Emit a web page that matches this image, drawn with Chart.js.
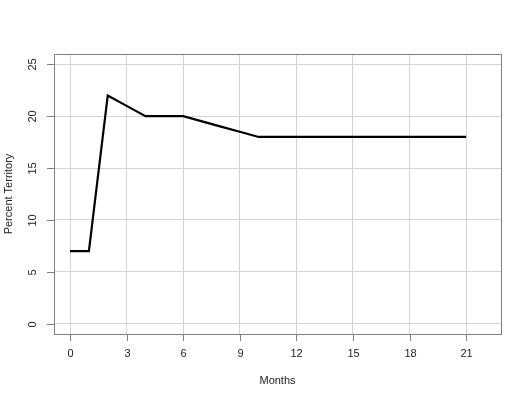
<!DOCTYPE html>
<html>
<head>
<meta charset="utf-8">
<script src="https://cdn.jsdelivr.net/npm/chart.js@4"></script>
<style>
  html, body { margin: 0; padding: 0; background: #fff; }
  #wrap { width: 529px; height: 402px; }
</style>
</head>
<body>
<div id="wrap"><canvas id="territoryChart" width="529" height="402"></canvas></div>
<script>
// values
const months = [0, 1, 2, 3, 4, 5, 6, 7, 8, 9, 10, 11, 12, 13, 14, 15, 16, 17, 18, 19, 20, 21];
const percentTerritory = [7, 7, 22, 21, 20, 20, 20, 19.5, 19, 18.5, 18, 18, 18, 18, 18, 18, 18, 18, 18, 18, 18, 18];
const xTicks = [0, 3, 6, 9, 12, 15, 18, 21];
const yTicks = [0, 5, 10, 15, 20, 25];
const xTitle = 'Months';
const yTitle = 'Percent Territory';

const FONT = '11px "Liberation Sans", Arial, sans-serif';

// R style frame, tick marks and labels (y labels are rotated)
const rAxes = {
    id: 'rAxes',
    afterDraw(chart) {
        const ctx = chart.ctx;
        const area = chart.chartArea;
        const xs = chart.scales.x, ys = chart.scales.y;
        ctx.save();
        ctx.strokeStyle = '#808080';
        ctx.lineWidth = 1;
        ctx.strokeRect(Math.round(area.left) + 0.5, Math.round(area.top) + 0.5,
            Math.round(area.right - area.left), Math.round(area.bottom - area.top));

        ctx.fillStyle = '#222';
        ctx.font = FONT;
        ctx.textAlign = 'center';
        ctx.textBaseline = 'middle';
        xTicks.forEach(v => {
            const px = Math.round(xs.getPixelForValue(v)) + 0.5;
            ctx.beginPath();
            ctx.moveTo(px, area.bottom);
            ctx.lineTo(px, area.bottom + 7);
            ctx.stroke();
            ctx.fillText(String(v), px, area.bottom + 20);
        });
        yTicks.forEach(v => {
            const py = Math.round(ys.getPixelForValue(v)) + 0.5;
            ctx.beginPath();
            ctx.moveTo(area.left, py);
            ctx.lineTo(area.left - 7, py);
            ctx.stroke();
            ctx.save();
            ctx.translate(area.left - 21, py);
            ctx.rotate(-Math.PI / 2);
            ctx.fillText(String(v), 0, 0);
            ctx.restore();
        });
        ctx.fillText(xTitle, (area.left + area.right) / 2, 381);
        ctx.save();
        ctx.translate(9, (area.top + area.bottom) / 2);
        ctx.rotate(-Math.PI / 2);
        ctx.fillText(yTitle, 0, 0);
        ctx.restore();
        ctx.restore();
    }
};

const ctx = document.getElementById('territoryChart').getContext('2d');
new Chart(ctx, {
    type: 'line',
    data: {
        datasets: [{
            data: months.map((m, i) => ({ x: m, y: percentTerritory[i] })),
            borderColor: '#000',
            borderWidth: 2.2,
            pointRadius: 0,
            tension: 0,
            fill: false
        }]
    },
    options: {
        responsive: false,
        animation: false,
        layout: { padding: { left: 54, top: 54, right: 28, bottom: 68 } },
        plugins: { legend: { display: false }, tooltip: { enabled: false } },
        scales: {
            x: {
                type: 'linear',
                min: -0.85,
                max: 22.85,
                afterBuildTicks: s => { s.ticks = xTicks.map(v => ({ value: v })); },
                ticks: { display: false },
                grid: { color: '#d3d3d3', lineWidth: 1, drawTicks: false },
                border: { display: false }
            },
            y: {
                min: -1,
                max: 26,
                afterBuildTicks: s => { s.ticks = yTicks.map(v => ({ value: v })); },
                ticks: { display: false },
                grid: { color: '#d3d3d3', lineWidth: 1, drawTicks: false },
                border: { display: false }
            }
        }
    },
    plugins: [rAxes]
});
</script>
</body>
</html>
